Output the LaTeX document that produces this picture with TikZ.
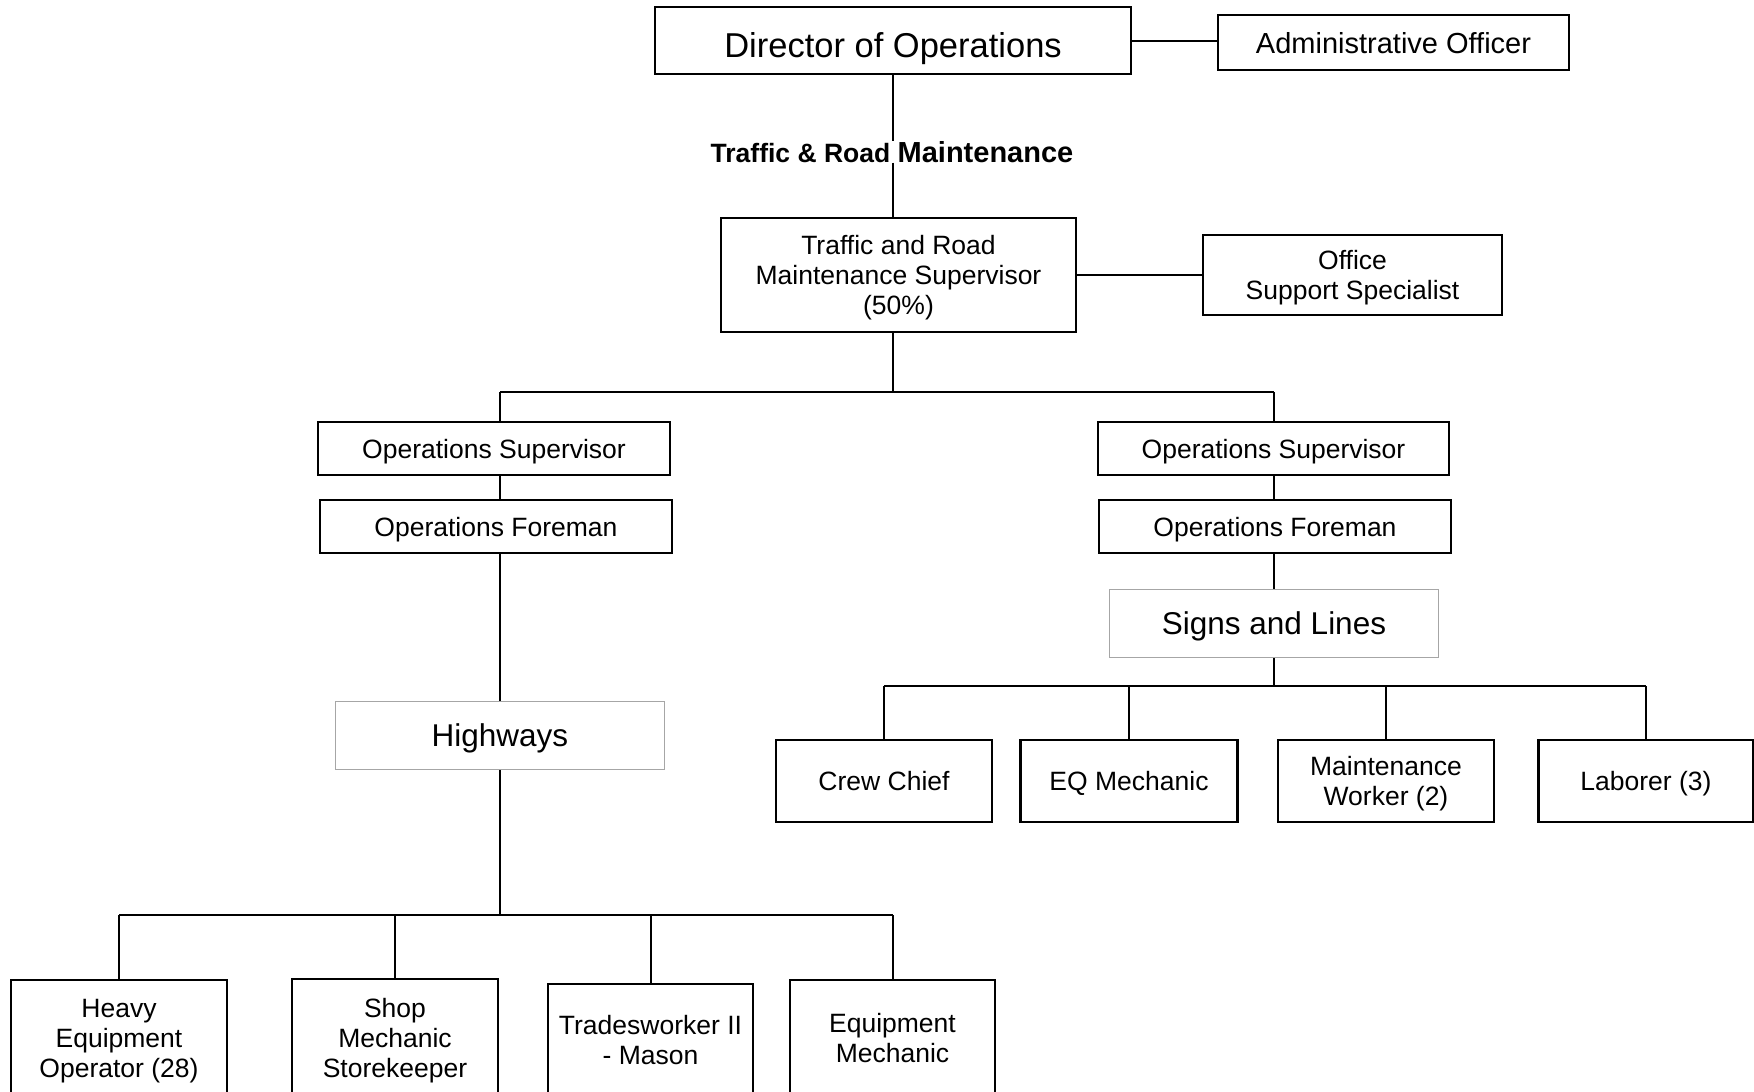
\documentclass[tikz,border=0pt]{standalone}
\usepackage{fontspec}
\setmainfont{Liberation Sans}
\begin{document}
\begin{tikzpicture}[x=1pt,y=-1pt,
  box/.style={draw=black, line width=2.6pt, align=center, inner sep=0pt, text depth=0pt,
              font=\fontsize{26.5}{30}\selectfont},
  unitbox/.style={draw=black!35, line width=1.4pt, align=center, inner sep=0pt, text depth=0pt,
              font=\fontsize{31.5}{36}\selectfont},
  link/.style={line width=2pt}]
\useasboundingbox[clip] (0,0) rectangle (1754,1092);

% top level
\node[box, minimum width=476, minimum height=67, text height=34pt,
      font=\fontsize{34.5}{38}\selectfont]
  (dir) at (893,40.5) {Director of Operations};
\node[box, minimum width=351, minimum height=55, font=\fontsize{29}{33}\selectfont]
  (admin) at (1393.5,42.5) {Administrative Officer};
\node[font=\bfseries, inner sep=0pt, text depth=0pt] (trm) at (892,152)
  {\fontsize{26.5}{30}\selectfont Traffic \& Road \fontsize{29}{33}\selectfont Maintenance};
\node[box, minimum width=355, minimum height=114] (trms) at (898.5,275)
  {Traffic and Road\\Maintenance Supervisor\\(50\%)};
\node[box, minimum width=299, minimum height=80] (office) at (1352.5,275)
  {Office\\Support Specialist};

% branch coordinates
\coordinate (bar) at (893,392);
\coordinate (hbar) at (500,915);
\coordinate (sbar) at (1276,686);

% left branch
\node[box, minimum width=352, minimum height=53] (opsL) at (494,448.5) {Operations Supervisor};
\node[box, minimum width=352, minimum height=53] (foreL) at (496,526.5) {Operations Foreman};
\node[unitbox, minimum width=329, minimum height=68] (hwy) at (500,735.5) {Highways};

% right branch
\node[box, minimum width=351, minimum height=53] (opsR) at (1273.5,448.5) {Operations Supervisor};
\node[box, minimum width=352, minimum height=53] (foreR) at (1275,526.5) {Operations Foreman};
\node[unitbox, minimum width=329, minimum height=68] (signs) at (1274,623.5) {Signs and Lines};

% signs and lines crews
\node[box, minimum width=216, minimum height=82] (crew) at (884,781) {Crew Chief};
\node[box, minimum width=217, minimum height=82] (eqmech) at (1129,781) {EQ Mechanic};
\node[box, minimum width=216, minimum height=82] (mworker) at (1386,781) {Maintenance\\Worker (2)};
\node[box, minimum width=215, minimum height=82] (laborer) at (1646,781) {Laborer (3)};

% highways crews
\node[box, minimum width=216, minimum height=116] (heavy) at (119,1038) {Heavy\\Equipment\\Operator (28)};
\node[box, minimum width=206, minimum height=118] (shop) at (395,1038) {Shop\\Mechanic\\Storekeeper};
\node[box, minimum width=205, minimum height=112] (trades) at (650.5,1040) {Tradesworker II\\- Mason};
\node[box, minimum width=205, minimum height=116] (eqmechanic) at (892.5,1038) {Equipment\\Mechanic};

% connectors: top
\draw[link] (dir.east) -- (admin.west |- dir.east);
\draw[link] (dir.south) -- (trm.north -| dir.south);
\draw[link] (trm.south -| dir.south) -- (dir.south |- trms.north);
\draw[link] (trms.east |- office.west) -- (office.west);
\draw[link] (dir.south |- trms.south) -- (bar);
\draw[link] (bar -| hwy.north) -- (bar -| signs.north);

% connectors: left branch
\draw[link] (bar -| hwy.north) -- (hwy.north |- opsL.north);
\draw[link] (hwy.north |- opsL.south) -- (hwy.north |- foreL.north);
\draw[link] (hwy.north |- foreL.south) -- (hwy.north);
\draw[link] (hwy.south) -- (hbar);
\draw[link] (hbar -| heavy.north) -- (hbar -| eqmechanic.north);
\foreach \n in {heavy,shop,trades,eqmechanic}
  \draw[link] (hbar -| \n.north) -- (\n.north);

% connectors: right branch
\draw[link] (bar -| signs.north) -- (signs.north |- opsR.north);
\draw[link] (signs.north |- opsR.south) -- (signs.north |- foreR.north);
\draw[link] (signs.north |- foreR.south) -- (signs.north);
\draw[link] (signs.south) -- (sbar -| signs.south);
\draw[link] (sbar -| crew.north) -- (sbar -| laborer.north);
\foreach \n in {crew,eqmech,mworker,laborer}
  \draw[link] (sbar -| \n.north) -- (\n.north);
\end{tikzpicture}
\end{document}
